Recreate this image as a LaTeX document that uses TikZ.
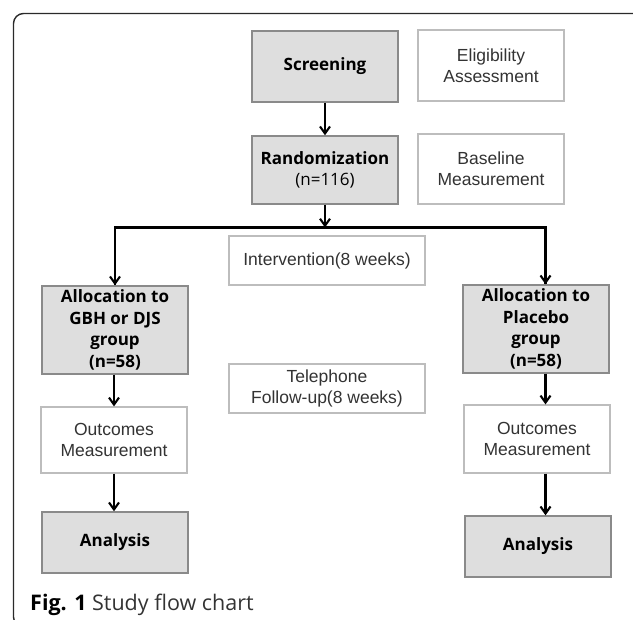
\documentclass[tikz,border=0pt]{standalone}
\usepackage{fontspec}
\setmainfont{Liberation Sans}
\newfontfamily\osans{Open Sans}
\usetikzlibrary{arrows.meta}
\definecolor{fillgray}{HTML}{DEDEDE}
\definecolor{boxgray}{HTML}{8A8A8A}
\definecolor{lightgray2}{HTML}{BDBDBD}
\definecolor{textgray}{HTML}{333333}
\definecolor{framecol}{HTML}{2A2A2A}
\begin{document}
\begin{tikzpicture}[x=1pt,y=-1pt,
  graybox/.style={draw=boxgray, line width=1.4pt, fill=fillgray, minimum width=146pt,
    align=center, inner sep=0pt, text=black,
    font=\osans\bfseries\fontsize{17}{21.5}\selectfont},
  whitebox/.style={draw=lightgray2, line width=1.2pt, fill=white, minimum width=146pt,
    align=center, inner sep=0pt, text=textgray,
    font=\fontsize{17.5}{20.7}\selectfont},
  arr/.style={-{Straight Barb[length=7pt,width=10pt]}, line width=2.1pt, black},
  link/.style={line width=2.1pt, black},
  capstyle/.style={anchor=base west, inner sep=0pt, font=\osans\fontsize{21.5}{24}\selectfont, text=textgray}]
\useasboundingbox (0,0) rectangle (633,620);
\clip (0,0) rectangle (633,620);
\draw[framecol, line width=1.4pt, rounded corners=10pt] (13.5,13.5) rectangle (700,627);

\node[graybox, minimum height=71pt] (screen) at (325,66.5) {Screening};
\node[whitebox, minimum height=71pt] (elig) at (491,65.5) {Eligibility\\Assessment};
\node[graybox, minimum height=68pt] (rand) at (325,170) {Randomization\\{\mdseries (n=116)}};
\node[whitebox, minimum height=70pt] (base) at (491,169) {Baseline\\Measurement};

\node[whitebox, minimum width=196pt, minimum height=49pt] (interv) at (327,260.5) {Intervention(8 weeks)};
\node[whitebox, minimum width=196pt, minimum height=49pt] (tel) at (327,388.5) {Telephone\\Follow-up(8 weeks)};

\node[graybox, minimum height=88pt] (allocL) at (115,330) {Allocation to\\GBH or DJS\\group\\(n=58)};
\node[graybox, minimum height=88pt] (allocR) at (536,329) {Allocation to\\Placebo\\group\\(n=58)};

\node[whitebox, minimum height=66pt] (outL) at (114,440) {Outcomes\\Measurement};
\node[whitebox, minimum height=68pt] (outR) at (537,439) {Outcomes\\Measurement};

\node[graybox, minimum height=61pt] (anaL) at (115,542.5) {Analysis};
\node[graybox, minimum height=61pt] (anaR) at (538,546.5) {Analysis};

\coordinate (split) at (325,227.5);
\coordinate (rx) at (545.5,0);

\draw[arr] (screen.south) -- (rand.north);
\draw[arr] (rand.south) -- (split);
\draw[link] (split) -| (allocL.north);
\draw[link] (split) -| (rx |- allocR.north);
\draw[arr] (allocL.north |- split) -- (allocL.north);
\draw[arr] (rx |- split) -- (rx |- allocR.north);

\draw[arr] (allocL.south -| outL.north) -- (outL.north);
\draw[arr] (rx |- allocR.south) -- (rx |- outR.north);
\draw[arr] (outL.south) -- (outL.south |- anaL.north);
\draw[arr] (rx |- outR.south) -- (rx |- anaR.north);

\node[capstyle] (cap) at (30,611) {{\bfseries\color{black}Fig. 1} Study flow chart};
\end{tikzpicture}
\end{document}
